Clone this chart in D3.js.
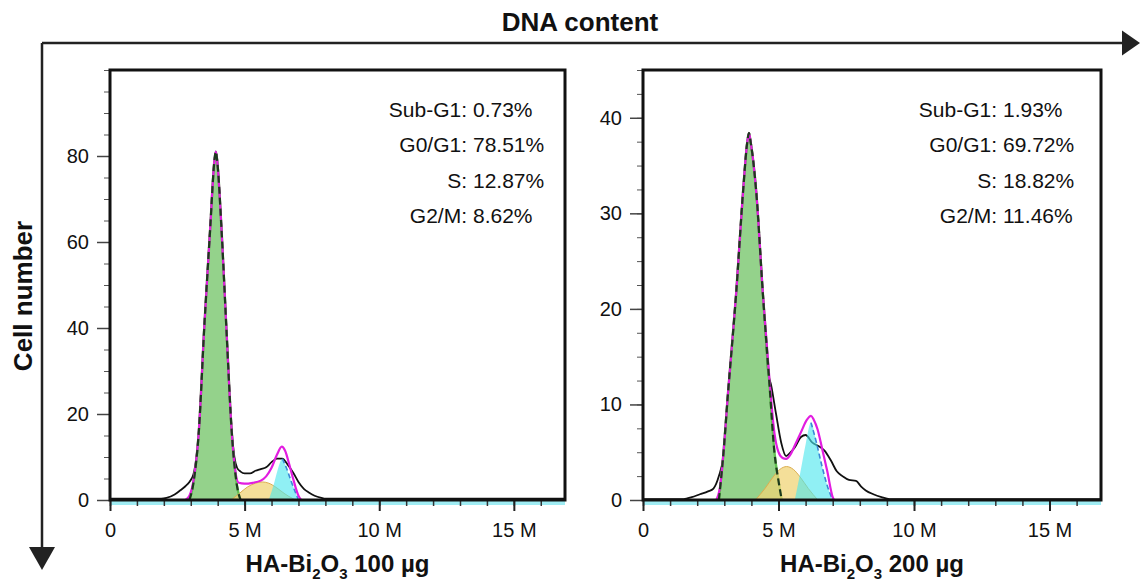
<!DOCTYPE html>
<html>
<head>
<meta charset="utf-8">
<script src="https://cdn.jsdelivr.net/npm/d3@7"></script>
<style>
  body { margin: 0; background: #fff; }
  svg { display: block; font-family: "Liberation Sans", Arial, sans-serif; }
</style>
</head>
<body>
<svg id="chart" width="1140" height="581"></svg>
<script>
// DNA content in millions (x), cell number (y)
var xMax = 16.9;
var xMajor = [0, 5, 10, 15];
var xLabels = ["0", "5 M", "10 M", "15 M"];

var statNames = ["Sub-G1:", "G0/G1:", "S:", "G2/M:"];

// 100 ug panel
var leftYTicks = [0, 20, 40, 60, 80];
var leftStats = ["0.73%", "78.51%", "12.87%", "8.62%"];
var leftRaw = [[0,0.3],[1.9,0.3],[2.1,0.5],[2.4,1.3],[2.6,2.2],[2.8,3.2],[2.95,4.2],[3.1,6],[3.3,16],[3.5,40],[3.72,63],[3.88,79],[3.93,81],[3.98,79],[4.15,62],[4.33,39],[4.5,18],[4.62,10],[4.72,7.5],[4.85,6.6],[5.0,6.2],[5.2,6.2],[5.4,6.8],[5.6,7.2],[5.8,7.6],[6.0,8.8],[6.2,9.6],[6.4,9.6],[6.6,8.2],[6.8,6.4],[7.0,4.2],[7.2,2.6],[7.4,1.7],[7.6,1.0],[7.85,0.5],[8.0,0.3],[16.9,0.3]];
var leftFit = [[2.8,0],[2.95,1],[3.1,4.5],[3.3,16],[3.5,40],[3.72,63],[3.88,79],[3.93,81],[3.98,79],[4.15,62],[4.33,39],[4.52,16],[4.65,7],[4.78,4],[5.0,3.8],[5.3,4],[5.6,4.5],[5.8,5.5],[6.0,7.5],[6.2,10.5],[6.38,12.4],[6.5,11.5],[6.65,8.5],[6.8,5],[7.0,1],[7.1,0]];
var leftG1 = [[2.95,0],[3.1,4],[3.3,16],[3.5,40],[3.72,63],[3.88,79],[3.93,81],[3.98,79],[4.15,62],[4.33,39],[4.52,16],[4.7,4],[4.85,0]];
var leftS = [[4.5,0],[4.8,1.5],[5.1,3.0],[5.4,3.9],[5.65,4.2],[5.9,3.9],[6.2,2.8],[6.5,1.4],[6.8,0.3],[6.9,0]];
var leftG2 = [[5.9,0],[6.1,4],[6.25,7.5],[6.4,9.6],[6.55,7.5],[6.75,4],[7.0,0]];

// 200 ug panel
var rightYTicks = [0, 10, 20, 30, 40];
var rightStats = ["1.93%", "69.72%", "18.82%", "11.46%"];
var rightRaw = [[0,0.1],[1.5,0.1],[1.8,0.3],[2.1,0.6],[2.4,0.9],[2.6,1.2],[2.8,2.5],[2.95,4.3],[3.14,11.3],[3.44,21.7],[3.69,32.2],[3.85,37.5],[3.91,38.4],[3.97,37.5],[4.18,32.2],[4.42,21.7],[4.55,16],[4.61,13.5],[4.73,12],[4.91,9],[5.1,6],[5.28,4.6],[5.45,5],[5.6,5.5],[5.83,6.6],[6.0,6.8],[6.25,6],[6.5,5.6],[6.69,5.2],[6.94,4.1],[7.15,3],[7.36,2.5],[7.6,2.1],[7.86,2.0],[8.05,1.4],[8.22,1.0],[8.5,0.6],[8.8,0.3],[9.1,0.1],[16.9,0.1]];
var rightFit = [[2.7,0],[2.85,1.5],[2.95,4.3],[3.14,11.3],[3.44,21.7],[3.69,32.2],[3.85,37.5],[3.91,38.4],[3.97,37.5],[4.18,32.2],[4.42,21.7],[4.67,12.5],[4.85,7],[5.0,5],[5.15,4.4],[5.28,4.3],[5.45,4.8],[5.6,5.7],[5.83,7.1],[6.05,8.4],[6.2,8.8],[6.3,8.4],[6.44,7.4],[6.6,5.5],[6.8,3],[7.0,0.3],[7.05,0]];
var rightG1 = [[2.8,0],[2.95,4.3],[3.14,11.3],[3.44,21.7],[3.69,32.2],[3.85,37.5],[3.91,38.4],[3.97,37.5],[4.18,32.2],[4.42,21.7],[4.67,12],[4.85,5],[5.0,2],[5.12,0]];
var rightS = [[4.15,0],[4.5,1.2],[4.8,2.4],[5.05,3.2],[5.3,3.5],[5.55,3.2],[5.8,2.4],[6.1,1.2],[6.45,0]];
var rightG2 = [[5.6,0],[5.8,2.8],[6.0,5.8],[6.2,8.1],[6.4,6],[6.6,3.6],[6.8,1.5],[7.0,0]];

var yTop = 70, yBot = 500;

var panels = [
  {x0: 110, x1: 565, yMax: 100, yTicks: leftYTicks, yStep: 5, raw: leftRaw, fit: leftFit,
   g1: leftG1, s: leftS, g2: leftG2, stats: leftStats, dose: "100 µg", colonX: 467},
  {x0: 643, x1: 1101, yMax: 45, yTicks: rightYTicks, yStep: 2.5, raw: rightRaw, fit: rightFit,
   g1: rightG1, s: rightS, g2: rightG2, stats: rightStats, dose: "200 µg", colonX: 997}
];

var svg = d3.select("#chart");

panels.forEach(function(p) {
  var x = d3.scaleLinear().domain([0, xMax]).range([p.x0, p.x1]);
  var y = d3.scaleLinear().domain([0, p.yMax]).range([yBot, yTop]);
  var g = svg.append("g");

  var line = d3.line()
    .x(function(d) { return x(d[0]); })
    .y(function(d) { return y(d[1]); })
    .curve(d3.curveMonotoneX);
  var area = d3.area()
    .x(function(d) { return x(d[0]); })
    .y0(y(0))
    .y1(function(d) { return y(d[1]); })
    .curve(d3.curveMonotoneX);

  // cyan strip just under the axis
  g.append("line")
    .attr("x1", p.x0).attr("x2", p.x1)
    .attr("y1", yBot + 3).attr("y2", yBot + 3)
    .attr("stroke", "#9fecf3").attr("stroke-width", 4);

  // raw histogram
  g.append("path").datum(p.raw)
    .attr("d", line)
    .attr("fill", "none").attr("stroke", "#111").attr("stroke-width", 1.8);

  // G0/G1 component
  g.append("path").datum(p.g1)
    .attr("d", area)
    .attr("fill", "#5dbb4f").attr("fill-opacity", 0.66);
  g.append("path").datum(p.g1)
    .attr("d", line)
    .attr("fill", "none").attr("stroke", "#62c052").attr("stroke-width", 2.4);

  // S component
  g.append("path").datum(p.s)
    .attr("d", area)
    .attr("fill", "#f0d477").attr("fill-opacity", 0.75)
    .attr("stroke", "#dcae50").attr("stroke-width", 1);

  // G2/M component
  g.append("path").datum(p.g2)
    .attr("d", area)
    .attr("fill", "#4ce6ee").attr("fill-opacity", 0.62);
  g.append("path").datum(p.g2.filter(function(d) { return d[0] >= p.g2[3][0]; }))
    .attr("d", line)
    .attr("fill", "none").attr("stroke", "#3b86d6").attr("stroke-width", 1.6)
    .attr("stroke-dasharray", "5,3");

  // model sum
  g.append("path").datum(p.fit)
    .attr("d", line)
    .attr("fill", "none").attr("stroke", "#e21de0").attr("stroke-width", 2.2);

  // dashed outline of G0/G1
  g.append("path").datum(p.g1)
    .attr("d", line)
    .attr("fill", "none").attr("stroke", "#1d3a1d").attr("stroke-width", 2.2)
    .attr("stroke-dasharray", "7,4");

  // y axis
  var yMinor = d3.range(0, p.yMax + 0.01, p.yStep);
  g.append("g")
    .attr("transform", "translate(" + p.x0 + ",0)")
    .call(d3.axisLeft(y).tickValues(yMinor).tickSize(6).tickFormat(""))
    .call(function(a) { a.select(".domain").remove(); a.selectAll("line").attr("stroke", "#555"); });
  g.append("g")
    .attr("transform", "translate(" + p.x0 + ",0)")
    .call(d3.axisLeft(y).tickValues(p.yTicks).tickSize(13).tickPadding(8))
    .call(function(a) {
      a.select(".domain").remove();
      a.selectAll("line").attr("stroke", "#444").attr("stroke-width", 1.5);
      a.selectAll("text").attr("font-size", 20).attr("fill", "#111")
        .attr("font-family", "Liberation Sans, Arial, sans-serif");
    });

  // x axis
  var xMinor = d3.range(0, 17, 1);
  g.append("g")
    .attr("transform", "translate(0," + yBot + ")")
    .call(d3.axisBottom(x).tickValues(xMinor).tickSize(6).tickFormat(""))
    .call(function(a) { a.select(".domain").remove(); a.selectAll("line").attr("stroke", "#333").attr("stroke-width", 1.5); });
  g.append("g")
    .attr("transform", "translate(0," + yBot + ")")
    .call(d3.axisBottom(x).tickValues(xMajor).tickSize(11).tickPadding(12)
      .tickFormat(function(d, i) { return xLabels[i]; }))
    .call(function(a) {
      a.select(".domain").remove();
      a.selectAll("line").attr("stroke", "#222").attr("stroke-width", 2);
      a.selectAll("text").attr("font-size", 20).attr("fill", "#111")
        .attr("font-family", "Liberation Sans, Arial, sans-serif");
    });

  // frame
  g.append("rect")
    .attr("x", p.x0).attr("y", yTop)
    .attr("width", p.x1 - p.x0).attr("height", yBot - yTop)
    .attr("fill", "none").attr("stroke", "#111").attr("stroke-width", 3);

  // phase percentages
  statNames.forEach(function(name, i) {
    var ty = 117 + i * 35.3;
    g.append("text")
      .attr("x", p.colonX).attr("y", ty)
      .attr("text-anchor", "end").attr("font-size", 21).attr("fill", "#111")
      .text(name);
    g.append("text")
      .attr("x", p.colonX + 6).attr("y", ty)
      .attr("font-size", 21).attr("fill", "#111")
      .text(p.stats[i]);
  });

  // panel title with subscripts
  var t = g.append("text")
    .attr("x", (p.x0 + p.x1) / 2).attr("y", 572)
    .attr("text-anchor", "middle").attr("font-size", 24).attr("font-weight", "bold")
    .attr("fill", "#111");
  t.append("tspan").text("HA-Bi");
  t.append("tspan").attr("font-size", 15).attr("dy", 7).text("2");
  t.append("tspan").attr("dy", -7).text("O");
  t.append("tspan").attr("font-size", 15).attr("dy", 7).text("3");
  t.append("tspan").attr("dy", -7).text(" " + p.dose);
});

// outer arrows
svg.append("path")
  .attr("d", "M42,43H1124M42,43V548")
  .attr("fill", "none").attr("stroke", "#222").attr("stroke-width", 2.5);
svg.append("path")
  .attr("d", "M1122,30.5L1140,43L1122,55.5Z")
  .attr("fill", "#222");
svg.append("path")
  .attr("d", "M29,547L55,547L42,570Z")
  .attr("fill", "#222");

svg.append("text")
  .attr("x", 580).attr("y", 31)
  .attr("text-anchor", "middle").attr("font-size", 26).attr("font-weight", "bold")
  .attr("fill", "#111")
  .text("DNA content");

svg.append("text")
  .attr("transform", "translate(32,296) rotate(-90)")
  .attr("text-anchor", "middle").attr("font-size", 26).attr("font-weight", "bold")
  .attr("fill", "#111")
  .text("Cell number");
</script>
</body>
</html>
